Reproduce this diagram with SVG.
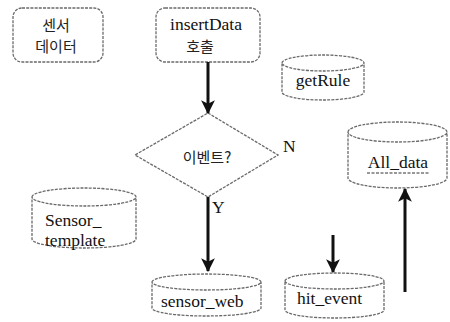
<svg xmlns="http://www.w3.org/2000/svg" width="450" height="322" viewBox="0 0 450 322">
<defs>
<style>
.shape{fill:#fff;stroke:#6a6a6a;stroke-width:1.3;stroke-dasharray:3 1.2}
.t{font-family:"Liberation Serif","Noto Serif CJK KR","Noto Sans CJK KR",serif;font-size:17.5px;fill:#111}
.k{font-family:"Noto Sans CJK KR",sans-serif;font-size:15px;fill:#222}
.conn{stroke:#111;stroke-width:3;fill:none}
</style>
<marker id="ah" viewBox="0 0 12 12" refX="11" refY="6" markerWidth="4.6" markerHeight="4.6" orient="auto" markerUnits="strokeWidth">
<path d="M0,0 L12,6 L0,12 L3,6 z" fill="#111"/>
</marker>
</defs>
<rect width="450" height="322" fill="#fff"/>

<g id="sensor-data">
<rect class="shape" x="13" y="8" width="90" height="54" rx="9"/>
<text class="k" x="56" y="31" text-anchor="middle">센서</text>
<text class="k" x="56" y="52" text-anchor="middle">데이터</text>
</g>

<g id="insertData">
<rect class="shape" x="156" y="8" width="104" height="54" rx="9"/>
<text class="t" x="206" y="30" text-anchor="middle">insertData</text>
<text class="k" x="200" y="52" text-anchor="middle">호출</text>
</g>

<g id="getRule">
<path class="shape" d="M282,63 A41,8 0 0 1 364,63 A41,8 0 0 1 282,63 L282,92 A41,8 0 0 0 364,92 L364,63"/>
<text class="t" x="323" y="86" text-anchor="middle">getRule</text>
</g>

<g id="event-decision">
<polygon class="shape" points="208,113 278,155 208,197 135,155"/>
<text class="k" x="207" y="163" text-anchor="middle">이벤트?</text>
</g>

<g id="All_data">
<path class="shape" d="M348,132 A49.5,10 0 0 1 447,132 A49.5,10 0 0 1 348,132 L348,178 A49.5,10 0 0 0 447,178 L447,132"/>
<text class="t" x="398" y="168" text-anchor="middle">All_data</text>
<line x1="367" y1="173" x2="429" y2="173" stroke="#333" stroke-width="1.2" stroke-dasharray="3 1.5"/>
</g>

<g id="Sensor_template">
<path class="shape" d="M32,197 A52,9 0 0 1 136,197 A52,9 0 0 1 32,197 L32,239 A52,9 0 0 0 136,239 L136,197"/>
<text class="t" x="45" y="226">Sensor_</text>
<text class="t" x="45" y="246">template</text>
</g>

<g id="sensor_web">
<path class="shape" d="M152,282 A54.5,8 0 0 1 261,282 A54.5,8 0 0 1 152,282 L152,308 A54.5,8 0 0 0 261,308 L261,282"/>
<text class="t" x="161" y="307">sensor_web</text>
</g>

<g id="hit_event">
<path class="shape" d="M285,281 A49.5,8 0 0 1 384,281 A49.5,8 0 0 1 285,281 L285,310 A49.5,8 0 0 0 384,310 L384,281"/>
<text class="t" x="297" y="304">hit_event</text>
</g>

<g id="connectors">
<line class="conn" x1="208" y1="62" x2="208" y2="113" marker-end="url(#ah)"/>
<line class="conn" x1="208" y1="197" x2="208" y2="271" marker-end="url(#ah)"/>
<line class="conn" x1="333" y1="235" x2="333" y2="272" marker-end="url(#ah)"/>
<line class="conn" x1="405" y1="292" x2="405" y2="189" marker-end="url(#ah)"/>
<text class="t" x="283" y="152">N</text>
<text class="t" x="212" y="213">Y</text>
</g>
</svg>
